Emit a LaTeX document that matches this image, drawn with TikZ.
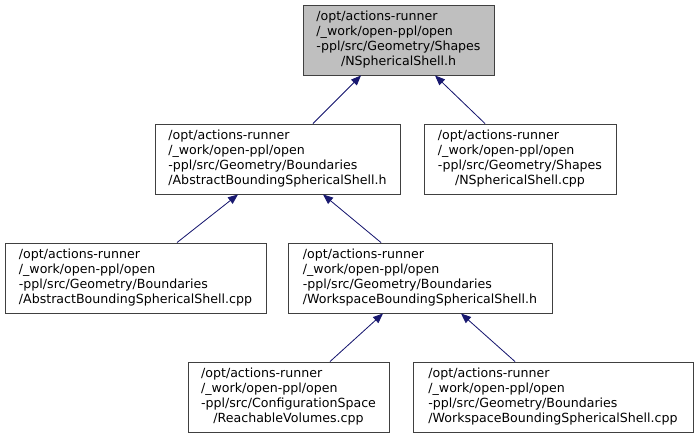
\documentclass[tikz,border=0pt]{standalone}
\usepackage{fontspec}
\setmainfont{DejaVu Sans}
\usetikzlibrary{arrows.meta}
\definecolor{edgeblue}{HTML}{191970}
\definecolor{boxline}{HTML}{404040}
\newcommand{\flabel}[4]{\fontsize{12.6pt}{15pt}\selectfont\begin{tabular}{@{}l@{}}#1\\#2\\#3\\\multicolumn{1}{@{}c@{}}{#4}\end{tabular}}
\tikzset{
  filebox/.style={draw=boxline, line width=0.9pt, fill=white, minimum height=70pt, inner sep=0pt, anchor=center},
  focusbox/.style={filebox, fill=black!25},
  edge/.style={draw=edgeblue, line width=0.8pt, -{Triangle[length=10pt,width=8pt]}, fill=edgeblue}
}
\renewcommand{\arraystretch}{1}
\begin{document}
\begin{tikzpicture}[x=1pt,y=-1pt]
\useasboundingbox (0,0) rectangle (695,437);
\node[focusbox, minimum width=191pt] (A) at (398.5,40) {\flabel{/opt/actions-runner}{/\_work/open-ppl/open}{-ppl/src/Geometry/Shapes}{/NSphericalShell.h}};
\node[filebox, minimum width=245pt] (B) at (277.5,159) {\flabel{/opt/actions-runner}{/\_work/open-ppl/open}{-ppl/src/Geometry/Boundaries}{/AbstractBoundingSphericalShell.h}};
\node[filebox, minimum width=192pt] (C) at (520,159) {\flabel{/opt/actions-runner}{/\_work/open-ppl/open}{-ppl/src/Geometry/Shapes}{/NSphericalShell.cpp}};
\node[filebox, minimum width=261pt] (D) at (135.5,278) {\flabel{/opt/actions-runner}{/\_work/open-ppl/open}{-ppl/src/Geometry/Boundaries}{/AbstractBoundingSphericalShell.cpp}};
\node[filebox, minimum width=264pt] (E) at (420,278) {\flabel{/opt/actions-runner}{/\_work/open-ppl/open}{-ppl/src/Geometry/Boundaries}{/WorkspaceBoundingSphericalShell.h}};
\node[filebox, minimum width=201pt] (F) at (288.5,397) {\flabel{/opt/actions-runner}{/\_work/open-ppl/open}{-ppl/src/ConfigurationSpace}{/ReachableVolumes.cpp}};
\node[filebox, minimum width=280pt] (G) at (553,397) {\flabel{/opt/actions-runner}{/\_work/open-ppl/open}{-ppl/src/Geometry/Boundaries}{/WorkspaceBoundingSphericalShell.cpp}};
\draw[edge] ([xshift=35.5pt]B.north) -- ([xshift=-37.5pt]A.south);
\draw[edge] ([xshift=-35pt]C.north) -- ([xshift=36.5pt]A.south);
\draw[edge] ([xshift=41.5pt]D.north) -- ([xshift=-39.5pt]B.south);
\draw[edge] ([xshift=-39pt]E.north) -- ([xshift=45.5pt]B.south);
\draw[edge] ([xshift=41.5pt]F.north) -- ([xshift=-37pt]E.south);
\draw[edge] ([xshift=-38pt]G.north) -- ([xshift=41pt]E.south);
\end{tikzpicture}
\end{document}
